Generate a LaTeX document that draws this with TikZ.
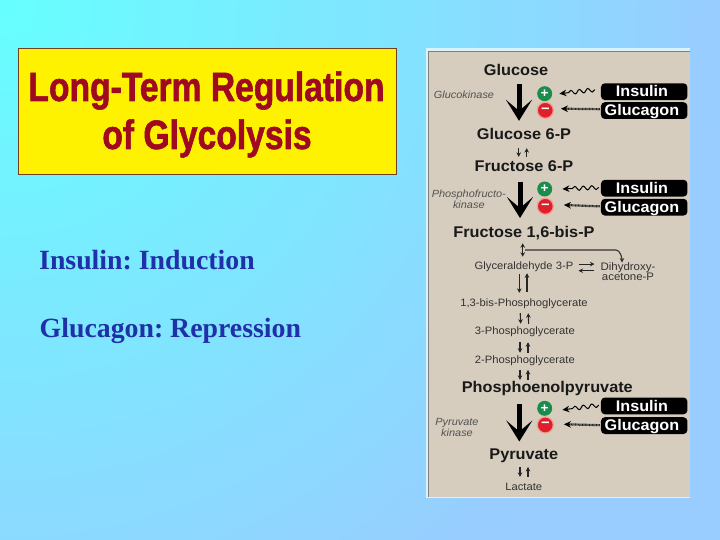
\documentclass[tikz,border=0pt]{standalone}
\usepackage{fontspec}
\usetikzlibrary{arrows.meta,decorations.pathmorphing,shadings}
\setmainfont{Liberation Serif}
\newfontfamily\labfont[FakeStretch=1.05]{Liberation Sans}
\newfontfamily\titlefont[FakeStretch=0.82,FakeBold=1.4]{Liberation Sans Bold}
\definecolor{bgA}{HTML}{66FFFF}
\definecolor{bgB}{HTML}{99CCFF}
\definecolor{panelc}{HTML}{D6CDBE}
\definecolor{titlec}{HTML}{A00A20}
\definecolor{bodyc}{HTML}{2030A8}
\definecolor{framec}{HTML}{70401A}
\definecolor{darktx}{HTML}{333333}
\definecolor{plusc}{HTML}{1C8C4C}
\definecolor{minusc}{HTML}{DE1F2C}
\definecolor{glowc}{HTML}{F0A090}
\tikzset{
  x=1pt,y=-1pt,
  big/.style={font=\labfont\fontsize{15.5}{15}\bfseries\selectfont,text=black!90,inner sep=0pt,text height=10.5pt,text depth=3pt},
  mid/.style={font=\labfont\fontsize{10.7}{10}\selectfont,text=darktx,inner sep=0pt,text height=7.5pt,text depth=2pt},
  small/.style={font=\labfont\fontsize{10.9}{10.2}\selectfont,text=darktx,inner sep=0pt,align=center},
  enz/.style={font=\labfont\fontsize{10.4}{9.2}\itshape\selectfont,text=darktx!85,inner sep=0pt,align=center},
  hormone/.style={fill=black,rounded corners=4pt,minimum width=86.5pt,minimum height=16.8pt,inner sep=0pt,text=white,text height=10.5pt,text depth=0pt,font=\labfont\fontsize{15.4}{15}\bfseries\selectfont},
  plusn/.style={circle,fill=plusc,minimum size=15pt,inner sep=0pt,text=white,font=\labfont\fontsize{13}{13}\bfseries\selectfont},
  minusn/.style={circle,fill=minusc,draw=glowc,line width=1.2pt,minimum size=16pt,inner sep=0pt,text=white,font=\labfont\fontsize{14}{14}\bfseries\selectfont},
  bigarrow/.style={line width=5pt,-{Stealth[length=21pt,width=26pt,inset=11pt]},black},
  thin arr/.style={line width=1.1pt,-{Stealth[length=4.5pt,width=4.6pt]},black!85},
  wavy/.style={line width=1pt,black,decoration={snake,amplitude=2pt,segment length=8.5pt,post length=9pt},decorate,-{Stealth[length=7pt,width=6.5pt]}},
  dotty/.style={line width=2.2pt,black!85,dash pattern=on .9pt off .5pt},
  dottyhead/.style={line width=1pt,black,-{Stealth[length=7pt,width=6.5pt]}}
}
\begin{document}
\frenchspacing
\begin{tikzpicture}
\useasboundingbox (0,0) rectangle (720,540);
\begin{scope}
\clip (0,0) rectangle (720,540);
\shade[inner color=bgA,outer color=bgB] (-730,-730) rectangle (730,730);
\end{scope}
\fill[white!85!cyan] (426,48) rectangle (690,498);
\fill[panelc] (428,51) rectangle (690,497);
\draw[gray,line width=.8pt] (428,497) -- (428,51) -- (690,51);
% title
\node[fill=yellow,draw=framec,line width=.8pt,minimum width=378.4pt,minimum height=126pt,inner sep=0pt] (tbox) at (207.5,111.3) {};
\node[anchor=base,inner sep=0pt,text=titlec,font=\titlefont\fontsize{41}{41}\selectfont] (t1) at (206.5,101) {Long-Term Regulation};
\node[anchor=base,inner sep=0pt,text=titlec,font=\titlefont\fontsize{41}{41}\selectfont] (t2) at (207,149) {of Glycolysis};
\node[anchor=base west,inner sep=0pt,text=bodyc,font=\fontsize{27.8}{27}\bfseries\selectfont] (b1) at (39,269.3) {Insulin: Induction};
\node[anchor=base west,inner sep=0pt,text=bodyc,font=\fontsize{27.8}{27}\bfseries\selectfont] (b2) at (39.5,337.3) {Glucagon: Repression};
% metabolites
\node[big] (glc) at (516,71.5) {Glucose};
\node[big] (g6p) at (524,135.5) {Glucose 6-P};
\node[big] (f6p) at (524,167.5) {Fructose 6-P};
\node[big] (fbp) at (524,234) {Fructose 1,6-bis-P};
\node[mid] (gap) at (524,266.7) {Glyceraldehyde 3-P};
\node[small] (dhap) at (628,271.8) {Dihydroxy-\\acetone-P};
\node[mid] (bpg) at (524,303.3) {1,3-bis-Phosphoglycerate};
\node[mid] (pg3) at (524.8,331.7) {3-Phosphoglycerate};
\node[mid] (pg2) at (524.8,360.7) {2-Phosphoglycerate};
\node[big] (pep) at (547.3,388.3) {Phosphoenolpyruvate};
\node[big] (pyr) at (523.8,456) {Pyruvate};
\node[mid] (lac) at (523.7,487.3) {Lactate};
% enzymes
\node[enz] (e1) at (464,95) {Glucokinase};
\node[enz] (e2) at (468.8,199.5) {Phosphofructo-\\kinase};
\node[enz] (e3) at (457,427.3) {Pyruvate\\kinase};
% hormones
\node[hormone] (ins1) at (644.2,91.7) {Insulin\kern4.5pt};
\node[hormone] (glu1) at (644.2,110.6) {Glucagon\kern4.5pt};
\node[hormone] (ins2) at (644.2,188.2) {Insulin\kern4.5pt};
\node[hormone] (glu2) at (644.2,207.2) {Glucagon\kern4.5pt};
\node[hormone] (ins3) at (644.2,405.9) {Insulin\kern4.5pt};
\node[hormone] (glu3) at (644.2,425.6) {Glucagon\kern4.5pt};
% signs
\node[plusn] (p1) at (544.7,93.7) {+};
\node[minusn] (m1) at (545.3,110.3) {−};
\node[plusn] (p2) at (544.7,189) {+};
\node[minusn] (m2) at (545.3,206.3) {−};
\node[plusn] (p3) at (544.7,408.3) {+};
\node[minusn] (m3) at (545.3,425) {−};
% big arrows
\draw[bigarrow,shorten <=5.7pt,shorten >=7.7pt] ([xshift=3pt]glc.south) -- ([xshift=-5pt]g6p.north);
\draw[bigarrow,shorten <=7.5pt,shorten >=9pt] ([xshift=-4pt]f6p.south) -- ([xshift=-4pt]fbp.north);
\draw[bigarrow,shorten <=9pt,shorten >=7.5pt] ([xshift=-28pt]pep.south) -- ([xshift=-4.5pt]pyr.north);
% small reversible arrows
\draw[thin arr,shorten <=5.7pt,shorten >=3.7pt] ([xshift=-5.3pt]g6p.south) -- ([xshift=-5.3pt]f6p.north);
\draw[thin arr,shorten <=3.7pt,shorten >=5.7pt] ([xshift=2.7pt]f6p.north) -- ([xshift=2.7pt]g6p.south);
\draw[line width=1.1pt,black!85,shorten <=2.3pt,shorten >=5pt,{Stealth[length=4.5pt,width=4.6pt]}-{Stealth[length=4.5pt,width=4.6pt]}] ([xshift=-1.3pt]fbp.south) -- ([xshift=-1.3pt]gap.north);
\draw[thin arr,shorten <=2.6pt,shorten >=5.5pt] ([xshift=-4.7pt]gap.south) -- ([xshift=-4.7pt]bpg.north);
\draw[thin arr,shorten <=6.5pt,shorten >=1.6pt] ([xshift=3pt]bpg.north) -- ([xshift=3pt]gap.south);
\draw[thin arr,shorten <=5pt,shorten >=3pt] ([xshift=-4pt]bpg.south) -- ([xshift=-4pt]pg3.north);
\draw[thin arr,shorten <=3pt,shorten >=5pt] ([xshift=4pt]pg3.north) -- ([xshift=4pt]bpg.south);
\draw[thin arr,shorten <=5.6pt,shorten >=3pt] ([xshift=-4.8pt]pg3.south) -- ([xshift=-4.8pt]pg2.north);
\draw[thin arr,shorten <=3pt,shorten >=5.6pt] ([xshift=3.2pt]pg2.north) -- ([xshift=3.2pt]pg3.south);
\draw[thin arr,shorten <=4.3pt,shorten >=1.5pt] ([xshift=-4.8pt]pg2.south) -- ([xshift=-27.3pt]pep.north);
\draw[thin arr,shorten <=1.5pt,shorten >=4.3pt] ([xshift=-19.3pt]pep.north) -- ([xshift=3.2pt]pg2.south);
\draw[thin arr,shorten <=4pt,shorten >=5.5pt] ([xshift=-3.8pt]pyr.south) -- ([xshift=-3.7pt]lac.north);
\draw[thin arr,shorten <=5.5pt,shorten >=4pt] ([xshift=4.3pt]lac.north) -- ([xshift=4.2pt]pyr.south);
% branch to DHAP
\coordinate (br) at (525,250);
\coordinate (brc) at (616,250);
\draw[thin arr,darktx] (br) -- (brc) .. controls +(4,0) and +(0,-5) .. ([xshift=-6pt]dhap.north);
% GAP <-> DHAP
\coordinate (gr) at (dhap.west |- gap.east);
\draw[thin arr,shorten <=6pt,shorten >=5pt] ([yshift=-4pt]gr) -- ([yshift=-4pt]gap.east);
\draw[thin arr,shorten <=5pt,shorten >=6pt] ([yshift=2.6pt]gap.east) -- ([yshift=2.6pt]gr);
% hormone signals
\draw[wavy] ([xshift=-6pt,yshift=2pt]ins1.west) -- ([xshift=7pt]p1.east);
\draw[dotty,shorten <=1pt,shorten >=12pt] ([yshift=1.4pt]glu1.west) -- ([yshift=1.7pt]m1.east);
\draw[dottyhead,shorten <=34pt,shorten >=7pt] ([yshift=1.4pt]glu1.west) -- ([yshift=1.7pt]m1.east);
\draw[wavy] ([xshift=-2pt,yshift=.8pt]ins2.west) -- ([xshift=10pt]p2.east);
\draw[dotty,shorten <=1pt,shorten >=15pt] ([yshift=.8pt]glu2.west) -- ([yshift=1.7pt]m2.east);
\draw[dottyhead,shorten <=31pt,shorten >=10pt] ([yshift=.8pt]glu2.west) -- ([yshift=1.7pt]m2.east);
\draw[wavy] ([xshift=-2pt,yshift=.8pt]ins3.west) -- ([xshift=10pt,yshift=-1.6pt]p3.east);
\draw[dotty,shorten <=1pt,shorten >=15pt] ([yshift=.4pt]glu3.west) -- ([yshift=1pt]m3.east);
\draw[dottyhead,shorten <=31pt,shorten >=10pt] ([yshift=.4pt]glu3.west) -- ([yshift=1pt]m3.east);
\end{tikzpicture}
\end{document}
